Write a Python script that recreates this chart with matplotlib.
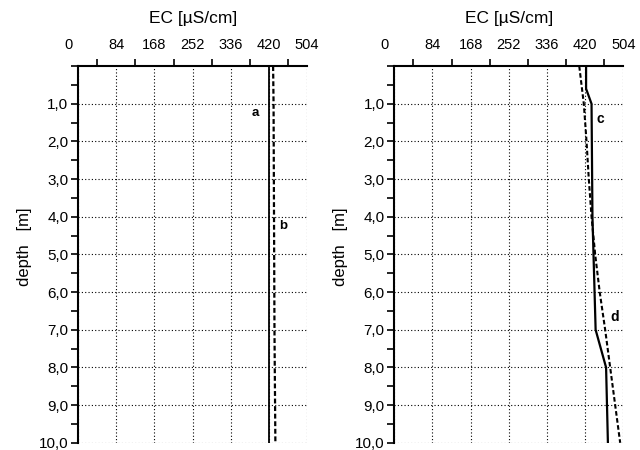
import matplotlib.pyplot as plt
import matplotlib.transforms as mtransforms
from matplotlib.ticker import MultipleLocator, FuncFormatter

plt.rcParams['font.family'] = ['Liberation Sans', 'DejaVu Sans']

# EC profiles vs depth [m]
depth_a = [0, 10]
ec_a = [419, 419]
depth_b = [0, 1, 4, 7, 10]
ec_b = [429, 430, 431, 432, 434]

depth_c = [0, 0.6, 1, 4, 7, 8, 10]
ec_c = [422, 422, 434, 436, 443, 466, 470]
depth_d = [0, 1, 2, 3, 4, 5, 6, 7, 8, 9, 10]
ec_d = [407, 417, 423, 428, 434, 442, 452, 464, 475, 486, 497]

x_ticks = [0, 84, 168, 252, 336, 420, 504]
x_minor = [42, 126, 210, 294, 378, 420, 462, 504]
y_ticks = [1, 2, 3, 4, 5, 6, 7, 8, 9, 10]

fig = plt.figure(figsize=(6.4, 4.5), dpi=100)
ax1 = fig.add_axes([0.122, 0.016, 0.358, 0.837])
ax2 = fig.add_axes([0.616, 0.016, 0.358, 0.837])


def style(ax):
    ax.set_xlim(0, 504)
    ax.set_ylim(10, 0)
    ax.xaxis.tick_top()
    ax.xaxis.set_label_position('top')
    ax.set_xticks(x_ticks)
    ax.set_xticks(x_minor, minor=True)
    ax.set_yticks(y_ticks)
    ax.yaxis.set_minor_locator(MultipleLocator(0.5))
    ax.yaxis.set_major_formatter(FuncFormatter(lambda v, p: '{:.1f}'.format(v).replace('.', ',')))
    ax.grid(True, which='major', linestyle=(0, (1, 2)), color='black', linewidth=0.8)
    for s in ['right', 'bottom']:
        ax.spines[s].set_visible(False)
    for s in ['left', 'top']:
        ax.spines[s].set_linewidth(1.5)
    ax.tick_params(which='both', direction='out', width=1.2)
    ax.tick_params(axis='x', which='major', length=0, pad=10, labelsize=10.5)
    ax.tick_params(axis='x', which='minor', length=5)
    ax.tick_params(axis='y', which='both', length=5, labelsize=11, pad=2)
    ax.set_xlabel('EC [µS/cm]', fontsize=12.5, labelpad=11)
    ax.set_ylabel('depth   [m]', fontsize=12)
    ax.yaxis.set_label_coords(-0.20, 0.52)
    # the "0" label sits a little left of the axis in the original
    shift = mtransforms.ScaledTranslation(-7 / 72, 0, fig.dpi_scale_trans)
    lbl = ax.get_xticklabels()[0]
    lbl.set_transform(lbl.get_transform() + shift)


style(ax1)
style(ax2)

ax1.plot(ec_a, depth_a, color='black', linewidth=1.3)
ax1.plot(ec_b, depth_b, color='black', linewidth=1.6, linestyle=(0, (2.2, 1.2)))
ax1.text(390, 1.25, 'a', fontsize=9.5, fontweight='bold', ha='center', va='center')
ax1.text(451, 4.24, 'b', fontsize=9.5, fontweight='bold', ha='center', va='center')

ax2.plot(ec_c, depth_c, color='black', linewidth=1.6)
ax2.plot(ec_d, depth_d, color='black', linewidth=1.5, linestyle=(0, (2.2, 1.2)))
ax2.text(454, 1.41, 'c', fontsize=10, fontweight='bold', ha='center', va='center')
ax2.text(486, 6.65, 'd', fontsize=10, fontweight='bold', ha='center', va='center')

fig.savefig('out.png', dpi=100)
